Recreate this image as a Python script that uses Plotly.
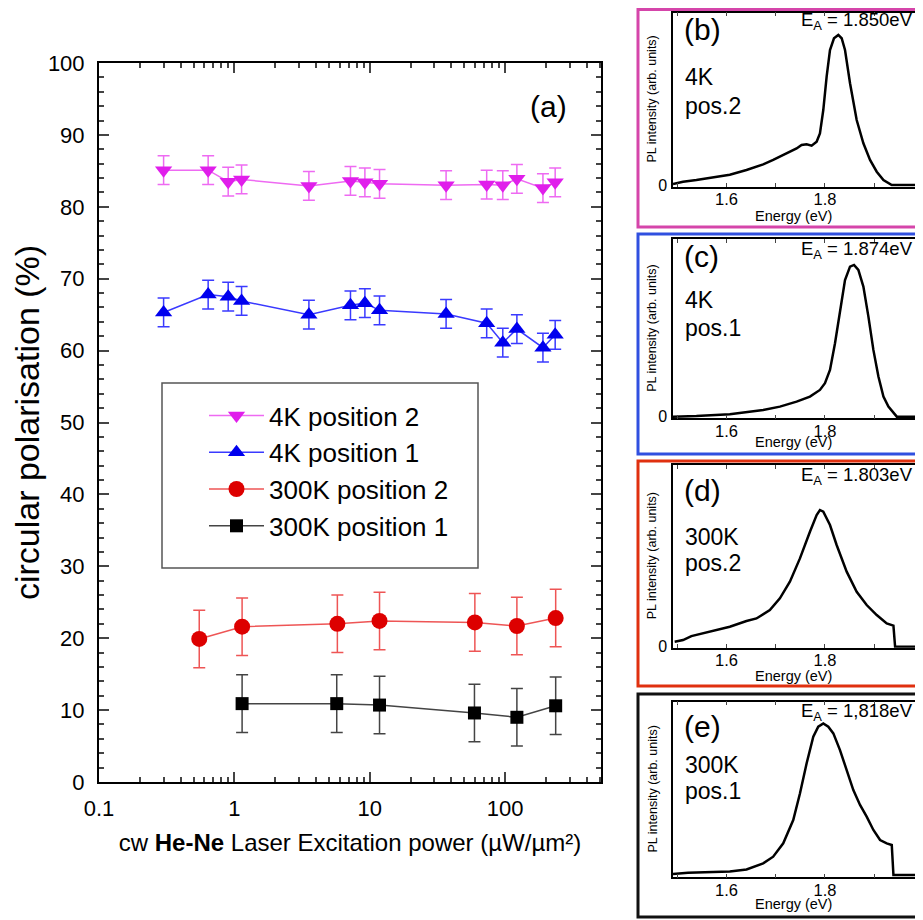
import plotly.graph_objects as go

W, H = 923, 920
OFF = 8  # page offset of the plot inside the browser window

# ---------------- main panel data ----------------
x_4k = [0.30, 0.64, 0.90, 1.13, 3.55, 7.2, 9.2, 11.8, 36.6, 73, 96, 122, 190, 234]
cp_4k_pos2 = [85.1, 85.1, 83.5, 83.8, 82.9, 83.6, 83.4, 83.2, 83.0, 83.1, 83.0, 83.9, 82.6, 83.4]
err_4k_pos2 = [2.0] * 14
cp_4k_pos1 = [65.3, 67.8, 67.5, 66.9, 65.0, 66.3, 66.6, 65.6, 65.1, 63.8, 61.1, 63.0, 60.4, 62.2]
err_4k_pos1 = [2.0] * 14

x_300k_pos2 = [0.55, 1.14, 5.76, 11.8, 59.7, 122, 236]
cp_300k_pos2 = [19.9, 21.6, 22.0, 22.4, 22.2, 21.7, 22.8]
err_300k_pos2 = [4.0] * 7

x_300k_pos1 = [1.14, 5.7, 11.8, 59.3, 122, 236]
cp_300k_pos1 = [10.9, 10.9, 10.7, 9.6, 9.0, 10.6]
err_300k_pos1 = [4.0] * 6

# ---------------- inset spectra (normalised PL) ----------------
e_b = [1.4915, 1.5119, 1.539, 1.5729, 1.6068, 1.6407, 1.6746, 1.6949, 1.722, 1.7424, 1.7525,
       1.7627, 1.7729, 1.7831, 1.7898, 1.7966, 1.8034, 1.8102, 1.8183, 1.8271, 1.8339, 1.8407,
       1.8509, 1.8644, 1.878, 1.8915, 1.9051, 1.9187, 1.9356, 1.9458, 1.9831]
pl_b = [0.007, 0.022, 0.033, 0.049, 0.069, 0.10, 0.138, 0.167, 0.211, 0.244, 0.267,
        0.271, 0.262, 0.289, 0.344, 0.50, 0.722, 0.90, 0.978, 1.0, 0.978, 0.90,
        0.678, 0.433, 0.278, 0.167, 0.089, 0.033, 0.0, 0.0, 0.0]

e_c = [1.4915, 1.539, 1.6068, 1.6746, 1.7085, 1.7424, 1.7695, 1.7898, 1.80, 1.8102, 1.8204,
       1.8305, 1.8407, 1.8509, 1.859, 1.8678, 1.878, 1.8882, 1.8983, 1.9085, 1.9187, 1.9288,
       1.939, 1.9458, 1.9831]
pl_c = [0.0, 0.004, 0.015, 0.044, 0.066, 0.099, 0.132, 0.176, 0.22, 0.308, 0.484,
        0.703, 0.901, 0.989, 1.0, 0.967, 0.857, 0.659, 0.44, 0.264, 0.132, 0.066,
        0.022, 0.0, 0.0]

e_d = [1.4949, 1.5119, 1.5288, 1.5525, 1.5797, 1.6068, 1.6407, 1.661, 1.6881, 1.7085, 1.7288,
       1.7492, 1.7695, 1.7831, 1.7898, 1.7966, 1.8102, 1.8237, 1.8441, 1.8644, 1.8847, 1.9051,
       1.9254, 1.939, 1.9424, 1.9831]
pl_d = [0.037, 0.049, 0.078, 0.098, 0.122, 0.146, 0.188, 0.207, 0.268, 0.354, 0.476,
        0.646, 0.841, 0.963, 1.0, 0.988, 0.89, 0.744, 0.549, 0.402, 0.305, 0.232,
        0.171, 0.154, 0.0, 0.0]

e_e = [1.4915, 1.522, 1.5729, 1.6068, 1.6407, 1.6746, 1.6949, 1.7153, 1.7356, 1.7492, 1.7627,
       1.7763, 1.7864, 1.7966, 1.8068, 1.817, 1.8305, 1.8441, 1.8576, 1.8712, 1.8847, 1.8983,
       1.9119, 1.9254, 1.9356, 1.939, 1.9831]
pl_e = [0.007, 0.015, 0.02, 0.024, 0.037, 0.077, 0.121, 0.209, 0.363, 0.538, 0.736,
        0.912, 0.978, 1.0, 0.978, 0.934, 0.824, 0.692, 0.56, 0.462, 0.385, 0.297,
        0.231, 0.209, 0.198, 0.0, 0.0]

FONT = "Liberation Sans, Arial, sans-serif"


def px(x):
    return (x - OFF) / W


def py(y):
    return 1 - (y - OFF) / H


fig = go.Figure()

series = [
    ("4K position 2", x_4k, cp_4k_pos2, err_4k_pos2, "triangle-down", "#E01EEB", "#EE6AF2", 15),
    ("4K position 1", x_4k, cp_4k_pos1, err_4k_pos1, "triangle-up", "#0000EE", "#3A3AFF", 15),
    ("300K position 2", x_300k_pos2, cp_300k_pos2, err_300k_pos2, "circle", "#DD0000", "#EE5555", 16),
    ("300K position 1", x_300k_pos1, cp_300k_pos1, err_300k_pos1, "square", "#000000", "#444444", 13),
]
for name, xs, ys, es, sym, mc, lc, ms in series:
    fig.add_trace(go.Scatter(
        x=xs, y=ys, name=name, mode="lines+markers",
        line=dict(color=lc, width=1.5),
        marker=dict(symbol=sym, size=ms, color=mc, line=dict(width=0)),
        error_y=dict(type="data", array=es, visible=True, color=lc, thickness=1.5, width=6),
        xaxis="x", yaxis="y",
    ))

# inset spectra
insets = [
    (e_b, pl_b, "x2", "y2"),
    (e_c, pl_c, "x3", "y3"),
    (e_d, pl_d, "x4", "y4"),
    (e_e, pl_e, "x5", "y5"),
]
for ex, pl, xa, ya in insets:
    fig.add_trace(go.Scatter(x=ex, y=pl, mode="lines", line=dict(color="black", width=2.5),
                             showlegend=False, xaxis=xa, yaxis=ya, hoverinfo="skip"))

axis_common = dict(showline=True, linecolor="black", showgrid=False, zeroline=False,
                   automargin=False)

layout = dict(
    width=W, height=H, margin=dict(l=0, r=0, t=0, b=0, pad=0, autoexpand=False),
    paper_bgcolor="white", plot_bgcolor="white",
    font=dict(family=FONT, color="black"),
    showlegend=True,
    legend=dict(x=px(204), y=py(392), xanchor="left", yanchor="top",
                bgcolor="rgba(0,0,0,0)", borderwidth=0, itemwidth=55,
                font=dict(size=26, family=FONT), tracegroupgap=0),
    xaxis=dict(type="log", range=[-1, 2.7076], domain=[px(99), px(601)], anchor="y",
               tickmode="linear", tick0=0, dtick=1, ticks="inside", ticklen=10, tickwidth=2,
               mirror="ticks", linewidth=2, tickfont=dict(size=22), ticklabelstandoff=6,
               minor=dict(ticks="inside", ticklen=5, tickwidth=1.5, dtick="D1", showgrid=False),
               title=dict(text="cw <b>He-Ne</b> Laser Excitation power (µW/µm²)",
                          font=dict(size=24), standoff=14),
               **axis_common),
    yaxis=dict(range=[0, 100], domain=[py(782), py(63)], anchor="x",
               tickmode="linear", tick0=0, dtick=10, ticks="inside", ticklen=10, tickwidth=2,
               mirror="ticks", linewidth=2, tickfont=dict(size=22), ticklabelstandoff=8,
               minor=dict(ticks="inside", ticklen=5, tickwidth=1.5, dtick=2, showgrid=False),
               title=dict(text="circular polarisation (%)", font=dict(size=34), standoff=10),
               **axis_common),
)

# inset geometry (pixel top/bottom of plotting area) and y ranges
inset_geo = [
    ("2", 12.5, 186.7, [-0.011, 1.1497], True),
    ("3", 239.3, 418.3, [-0.011, 1.169], True),
    ("4", 465.0, 647.7, [-0.007, 1.329], True),
    ("5", 701.7, 877.3, [-0.015, 1.143], False),
]
for k, top, bot, yr, show0 in inset_geo:
    layout["xaxis" + k] = dict(range=[1.4915, 1.997], domain=[px(673), px(922)], anchor="y" + k,
                               tickmode="array", tickvals=[1.6, 1.8, 2.0],
                               ticktext=["1.6", "1.8", "2.0"],
                               ticks="inside", ticklen=4, tickwidth=1.2, mirror="ticks",
                               linewidth=1.5, tickfont=dict(size=16.5), ticklabelstandoff=-3,
                               minor=dict(tickmode="array", tickvals=[1.5, 1.7, 1.9],
                                          ticks="inside", ticklen=4, tickwidth=1.2,
                                          showgrid=False),
                               **axis_common)
    layout["yaxis" + k] = dict(range=yr, domain=[py(bot), py(top)], anchor="x" + k,
                               tickmode="array", tickvals=[0], ticktext=["0"],
                               showticklabels=show0,
                               ticks="", mirror=True, linewidth=1.5, tickfont=dict(size=16),
                               ticklabelstandoff=1, **axis_common)

fig.update_layout(**layout)

# ---------------- shapes: legend box and coloured panel frames ----------------
shapes = [
    dict(type="rect", xref="paper", yref="paper", x0=px(162), x1=px(478), y0=py(568), y1=py(383),
         line=dict(color="#555555", width=1.5)),
]
frames = [
    (OFF + 1.5, 227, "#D545AA"),
    (234, 454, "#3050E0"),
    (461, 686, "#E0300F"),
    (694, 917, "#111111"),
]
for t, b, c in frames:
    shapes.append(dict(type="rect", xref="paper", yref="paper", x0=px(638), x1=px(935),
                       y0=py(b), y1=py(t), line=dict(color=c, width=3)))
fig.update_layout(shapes=shapes)

# ---------------- annotations ----------------
ann = []


def text(x, y, s, size, xanchor="left", yanchor="middle", angle=0):
    ann.append(dict(x=px(x), y=py(y), xref="paper", yref="paper", text=s, showarrow=False,
                    xanchor=xanchor, yanchor=yanchor, textangle=angle,
                    font=dict(size=size, family=FONT, color="black")))


text(548, 107, "(a)", 30, xanchor="center")

panels = [
    ("(b)", "4K", "pos.2", "1.850eV", 12.5, 186.7, 30, 77, 106, 216, 21),
    ("(c)", "4K", "pos.1", "1.874eV", 239.3, 418.3, 257, 300, 328, 442, 250),
    ("(d)", "300K", "pos.2", "1.803eV", 465.0, 647.7, 490, 537, 563, 676, 476),
    ("(e)", "300K", "pos.1", "1,818eV", 701.7, 877.3, 726, 765, 791, 904, 712),
]
for lab, temp, pos, ea, top, bot, ylab, ytemp, ypos, yen, yea in panels:
    text(682, ylab, lab, 30)
    text(683, ytemp, temp, 23)
    text(683, ypos, pos, 23)
    text(915, yea, "E<sub>A</sub> = " + ea, 18.5, xanchor="right")
    text(793, yen, "Energy (eV)", 14.5, xanchor="center")
    text(652, (top + bot) / 2, "PL intensity (arb. units)", 12.5, xanchor="center", angle=-90)

fig.update_layout(annotations=ann)

fig.write_html("out.html")
